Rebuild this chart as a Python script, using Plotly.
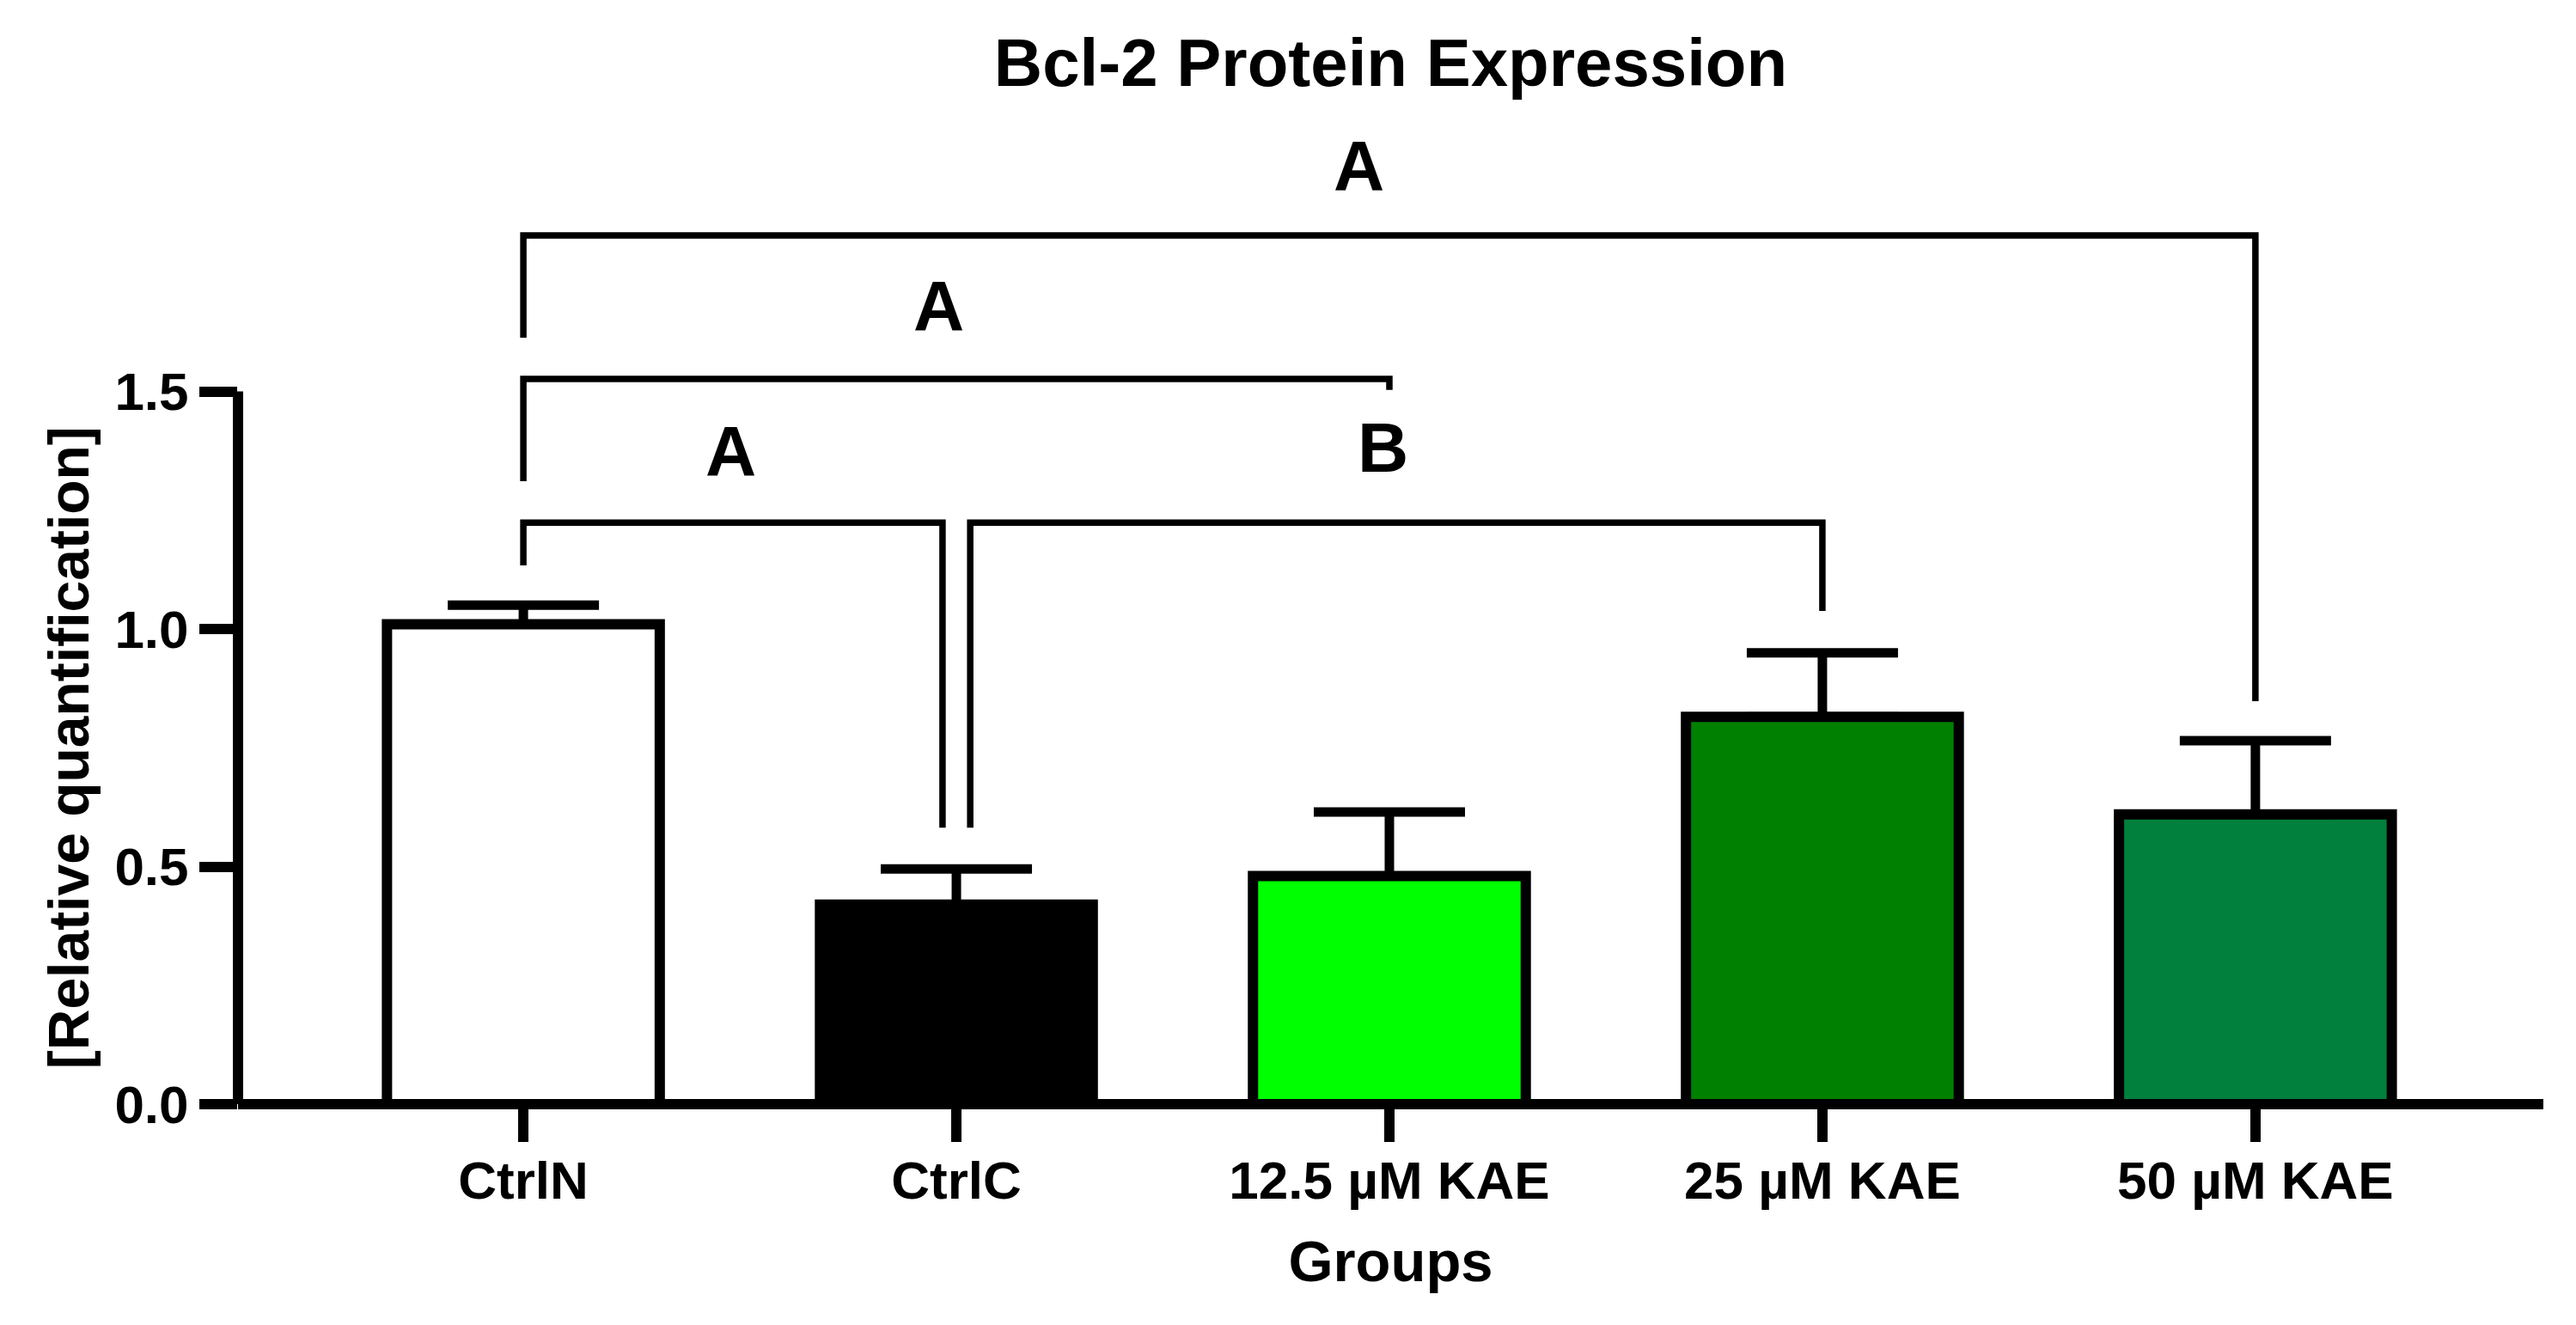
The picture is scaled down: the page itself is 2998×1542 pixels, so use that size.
import plotly.graph_objects as go

# ---------------- data ----------------
groups = ["CtrlN", "CtrlC", "12.5 µM KAE", "25 µM KAE", "50 µM KAE"]
means = [1.01, 0.42, 0.48, 0.815, 0.61]
errors = [0.04, 0.075, 0.135, 0.135, 0.155]
bar_colors = ["#FFFFFF", "#000000", "#00FF00", "#008000", "#00803C"]

y_ticks = [0.0, 0.5, 1.0, 1.5]

# significance brackets (x in category index units, y in data units)
br_x0 = [0, 0, 0, 1.032]
br_x1 = [4, 2, 0.968, 3]
br_y = [1.828, 1.526, 1.224, 1.224]
br_left_end = [1.613, 1.311, 1.134, 0.582]
br_right_end = [0.848, 1.503, 0.582, 1.038]
label_text = ["A", "A", "A", "B"]
label_x = [1.93, 0.96, 0.48, 1.985]
label_y = [1.975, 1.68, 1.376, 1.382]

# ---------------- figure ----------------
FONT = "Liberation Sans, Arial, sans-serif"
PAGE_PAD = 8  # default body margin of the html page
W, H = 2998 - 2 * PAGE_PAD, 1542 - 2 * PAGE_PAD
ML, MT = 277 - PAGE_PAD, 140 - PAGE_PAD
MB = H - (1285 - PAGE_PAD)
MR = W - (2960 - PAGE_PAD)
px_per_unit = 553.0
y_top = (H - MT - MB) / px_per_unit

fig = go.Figure()

fig.add_trace(go.Bar(
    x=list(range(len(groups))),
    y=means,
    width=0.63,
    marker=dict(color=bar_colors, line=dict(color="black", width=12)),
    error_y=dict(type="data", array=errors, arrayminus=[0] * len(errors),
                 symmetric=False, color="black", thickness=11, width=88),
    showlegend=False,
    hoverinfo="skip",
))

# brackets
bx, by = [], []
for x0, x1, yy, le, re in zip(br_x0, br_x1, br_y, br_left_end, br_right_end):
    bx += [x0, x0, x1, x1, None]
    by += [le, yy, yy, re, None]
fig.add_trace(go.Scatter(
    x=bx, y=by, mode="lines",
    line=dict(color="black", width=7.5),
    showlegend=False, hoverinfo="skip", cliponaxis=False,
))

for t, lx, ly in zip(label_text, label_x, label_y):
    fig.add_annotation(x=lx, y=ly, text=t, showarrow=False,
                       xanchor="center", yanchor="middle",
                       font=dict(family=FONT, size=82, color="black", weight="bold"))

# y-axis title centred on the drawn (0 - 1.5) part of the axis
fig.add_annotation(xref="paper", yref="y", x=0, y=(y_ticks[0] + y_ticks[-1]) / 2,
                   xshift=80 - 277, text="[Relative quantification]", textangle=-90,
                   showarrow=False, xanchor="center", yanchor="middle",
                   font=dict(family=FONT, size=66, color="black", weight="bold"))

# spines
fig.add_shape(type="line", xref="x domain", yref="y", x0=0, x1=0, y0=0, y1=y_ticks[-1],
              line=dict(color="black", width=12))
fig.add_shape(type="line", xref="x domain", yref="paper", x0=0, x1=1, y0=0, y1=0,
              line=dict(color="black", width=12))

fig.update_layout(
    width=W, height=H,
    margin=dict(l=ML, r=MR, t=MT, b=MB),
    paper_bgcolor="white", plot_bgcolor="white",
    font=dict(family=FONT, color="black", weight="bold"),
    title=dict(text="Bcl-2 Protein Expression", x=0.5, xref="paper", xanchor="center",
               y=1 - (73 - PAGE_PAD) / H, yref="container", yanchor="middle",
               font=dict(family=FONT, size=78, color="black", weight="bold")),
)

fig.update_xaxes(
    range=[-0.659, 4.665],
    tickmode="array", tickvals=list(range(len(groups))), ticktext=groups,
    ticks="outside", ticklen=43, tickwidth=12, tickcolor="black",
    ticklabelstandoff=-8,
    showline=False, showgrid=False, zeroline=False,
    tickfont=dict(family=FONT, size=62, color="black", weight="bold"),
    title=dict(text="Groups", standoff=36,
               font=dict(family=FONT, size=67, color="black", weight="bold")),
)
fig.update_yaxes(
    range=[0, y_top],
    tickmode="array", tickvals=y_ticks, tickformat=".1f",
    ticks="outside", ticklen=44, tickwidth=12, tickcolor="black",
    showline=False, showgrid=False, zeroline=False,
    tickfont=dict(family=FONT, size=62, color="black", weight="bold"),
)

fig.write_html("out.html")
